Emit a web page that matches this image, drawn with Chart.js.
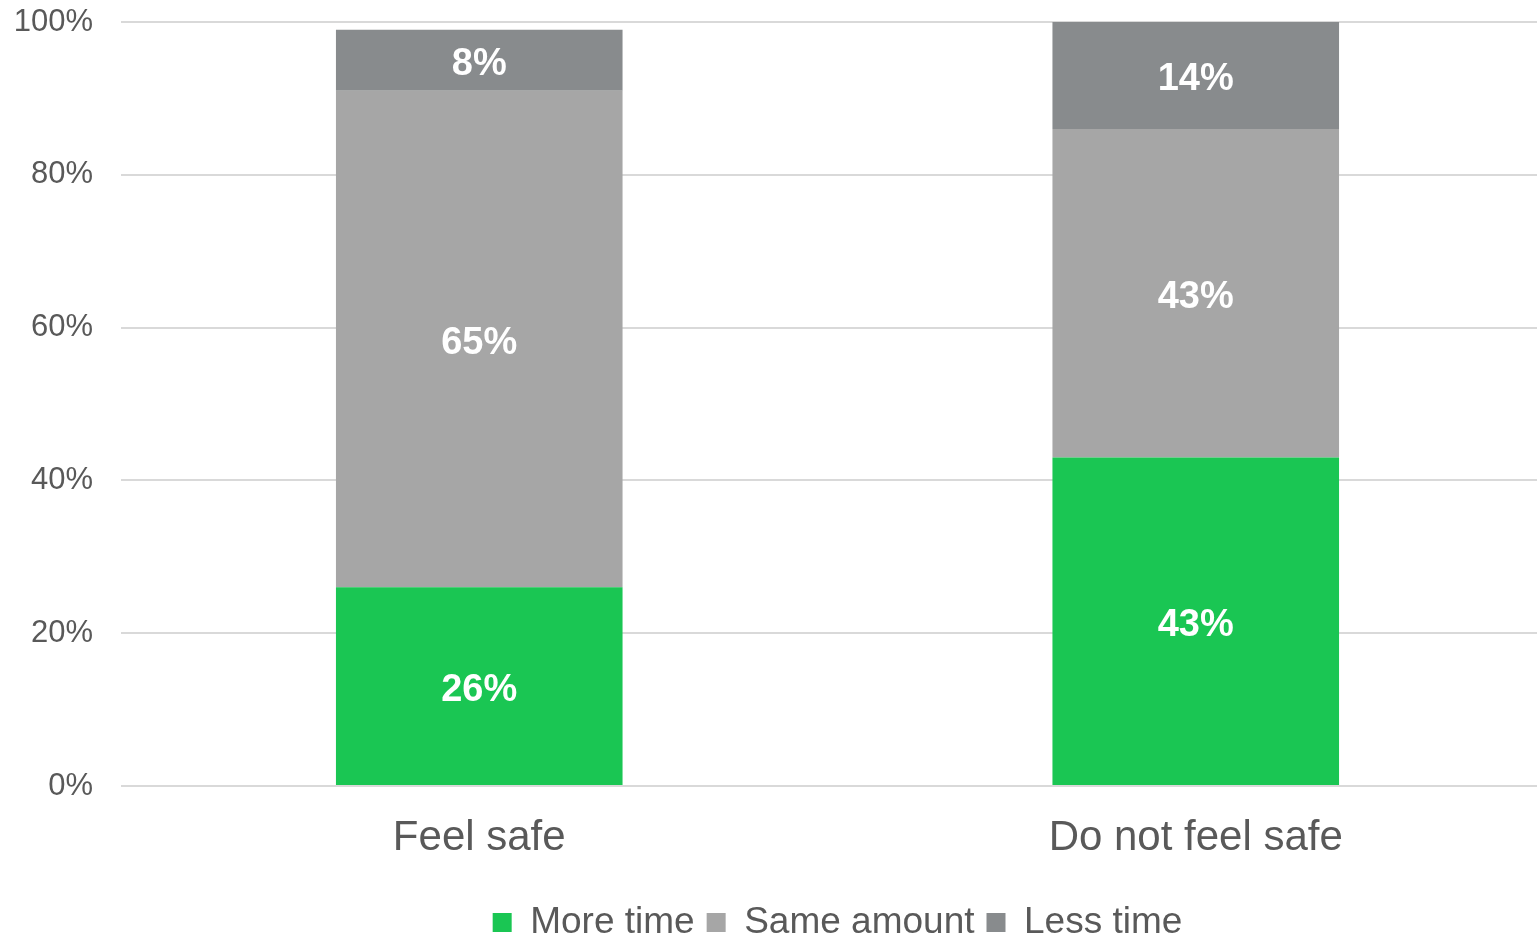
<!DOCTYPE html>
<html>
<head>
<meta charset="utf-8">
<script src="https://cdn.jsdelivr.net/npm/chart.js@4"></script>
<style>
  html, body { margin: 0; padding: 0; background: #fff; overflow: hidden; }
  #frame { position: relative; width: 1537px; height: 936px; overflow: hidden; }
  #wrap { position: absolute; left: 0; top: 0; width: 1554px; height: 951px; }
</style>
</head>
<body>
<div id="frame"><div id="wrap"><canvas id="myChart"></canvas></div></div>
<script>
const categories = ['Feel safe', 'Do not feel safe'];
const moreTime = [26, 43];
const sameAmount = [65, 43];
const lessTime = [8, 14];
const yTicks = [0, 20, 40, 60, 80, 100];

const FONT = '"Liberation Sans", Arial, sans-serif';
const ctx = document.getElementById('myChart').getContext('2d');

// white bold value labels centred in each segment
const segmentLabels = {
    id: 'segmentLabels',
    afterDatasetsDraw(chart) {
        const c = chart.ctx;
        c.save();
        c.fillStyle = '#ffffff';
        c.font = 'bold 38px ' + FONT;
        c.textAlign = 'center';
        c.textBaseline = 'middle';
        chart.data.datasets.forEach((ds, i) => {
            chart.getDatasetMeta(i).data.forEach((bar, j) => {
                c.fillText(ds.data[j] + '%', bar.x, (bar.y + bar.base) / 2 + 4);
            });
        });
        c.restore();
    }
};

// centre the legend under the plot area rather than the canvas
const legendUnderPlot = {
    id: 'legendUnderPlot',
    afterLayout(chart) {
        const lg = chart.legend;
        lg.left = chart.chartArea.left;
        lg.right = chart.chartArea.right;
        lg.width = lg.right - lg.left;
    }
};

const data = {
    labels: categories,
    datasets: [
        { label: 'More time', data: moreTime, backgroundColor: '#1ac653' },
        { label: 'Same amount', data: sameAmount, backgroundColor: '#a6a6a6' },
        { label: 'Less time', data: lessTime, backgroundColor: '#888b8d' },
    ]
};

const config = {
    type: 'bar',
    data: data,
    plugins: [segmentLabels, legendUnderPlot],
    options: {
        responsive: true,
        maintainAspectRatio: false,
        animation: false,
        categoryPercentage: 1,
        barPercentage: 0.4,
        layout: { padding: { left: 0, right: 0, top: 22, bottom: 0 } },
        plugins: {
            legend: {
                position: 'bottom',
                labels: {
                    color: '#595959',
                    font: { size: 37, family: FONT },
                    boxWidth: 19,
                    boxHeight: 19,
                    padding: 12,
                },
            },
            tooltip: { enabled: false },
        },
        scales: {
            x: {
                stacked: true,
                grid: { display: false },
                border: { display: false },
                ticks: {
                    color: '#595959',
                    font: { size: 42, family: FONT },
                    padding: 19,
                },
                afterFit: (axis) => {
                    axis.height = 106;
                    axis.paddingLeft = 0;
                    axis.paddingRight = 0;
                },
            },
            y: {
                stacked: true,
                min: 0,
                max: 100,
                afterBuildTicks: (axis) => { axis.ticks = yTicks.map(v => ({ value: v })); },
                grid: { color: '#d9d9d9', lineWidth: 2, drawTicks: false },
                border: { display: false },
                ticks: {
                    color: '#595959',
                    font: { size: 31, family: FONT },
                    padding: 28,
                    callback: (v) => v + '%',
                },
                afterFit: (axis) => {
                    axis.width = 121;
                    axis.paddingTop = 0;
                    axis.paddingBottom = 0;
                },
            },
        },
    },
};

const myChart = new Chart(ctx, config);
</script>
</body>
</html>
